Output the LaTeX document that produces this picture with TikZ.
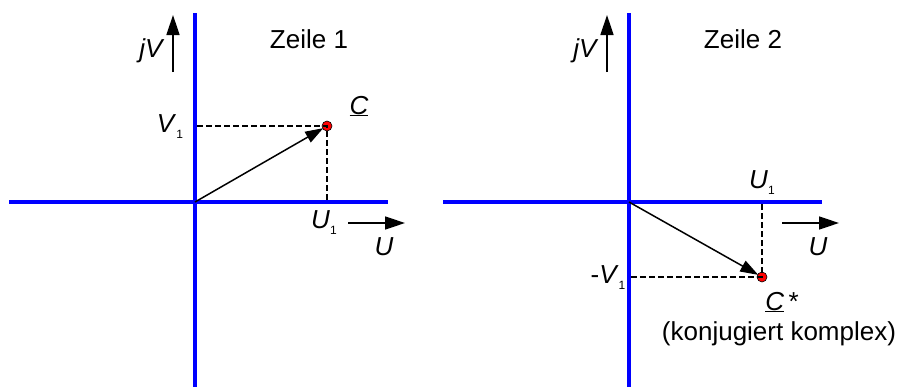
\documentclass[tikz,border=0pt]{standalone}
\usepackage{fontspec}
\setmainfont{Liberation Sans}
\usetikzlibrary{arrows.meta}
\newcommand{\lowidx}[1]{\raisebox{-0.45ex}{\fontsize{12}{12}\selectfont #1}}
\tikzset{
  every picture/.style={font=\fontsize{26}{30}\selectfont, x=1pt, y=-1pt},
  axis/.style={draw=blue, line width=3.2pt},
  arr/.style={-{Triangle[length=20pt, width=13pt]}, line width=1.5pt},
  vec/.style={-{Triangle[length=18pt, width=12pt]}, line width=1.5pt, shorten >=-1pt},
  helper/.style={dash pattern=on 6pt off 3pt, line width=1.6pt},
  dot/.style={circle, draw=black, fill=red, line width=0.6pt, inner sep=0pt, minimum size=10pt},
  lbl/.style={anchor=base, inner sep=0pt},
}

\begin{document}
\begin{tikzpicture}
  \useasboundingbox (0,0) rectangle (902,388);
  % both panels: axes, jV and U arrows, title
  \foreach \n/\x in {1/195, 2/629} {
    \coordinate (yt\n) at (\x,13);
    \coordinate (yb\n) at (\x,387);
    \coordinate (xl\n) at (\x-186,202);
    \coordinate (xr\n) at (\x+193,202);
    \coordinate (o\n) at (\x,202);
    \draw[axis] (xl\n) -- (xr\n);
    \draw[axis] (yt\n) -- (yb\n);
    \coordinate (jva\n) at (\x-22,72);
    \coordinate (jvb\n) at (\x-22,15);
    \draw[arr] (jva\n) -- (jvb\n);
    \node[lbl] (jv\n) at (\x-43,57) {\textit{jV}};
    \coordinate (ua\n) at (\x+153,223);
    \coordinate (ub\n) at (\x+210,223);
    \draw[arr] (ua\n) -- (ub\n);
    \node[lbl] (u\n) at (\x+189,255) {\textit{U}};
    \node[lbl] (title\n) at (\x+114,48) {Zeile \n};
  }
  % Zeile 1
  \node[dot] (c1) at (327,126) {};
  \coordinate (v1) at (197,126);
  \coordinate (u1) at (327,202);
  \draw[helper] (v1) -- (c1.center) -- (u1);
  \draw[vec] (o1) -- (c1);
  \node[lbl] (v1lbl) at (170,132) {\textit{V}\lowidx{1}};
  \node[lbl] (u1lbl) at (324,228) {\textit{U}\lowidx{1}};
  \node[lbl] (clbl) at (359,114) {\underline{\textit{C}}};
  % Zeile 2
  \node[dot] (c2) at (762,277) {};
  \coordinate (v2) at (631,277);
  \coordinate (u2) at (762,202);
  \draw[helper] (v2) -- (c2.center) -- (u2);
  \draw[vec] (o2) -- (c2);
  \node[lbl] (v2lbl) at (608,283) {-\textit{V}\lowidx{1}};
  \node[lbl] (u2lbl) at (762,188) {\textit{U}\lowidx{1}};
  \node[lbl] (cslbl) at (782,310) {\underline{\textit{C}}\,*};
  \node[lbl] (konj) at (779,340) {(konjugiert komplex)};
\end{tikzpicture}
\end{document}
